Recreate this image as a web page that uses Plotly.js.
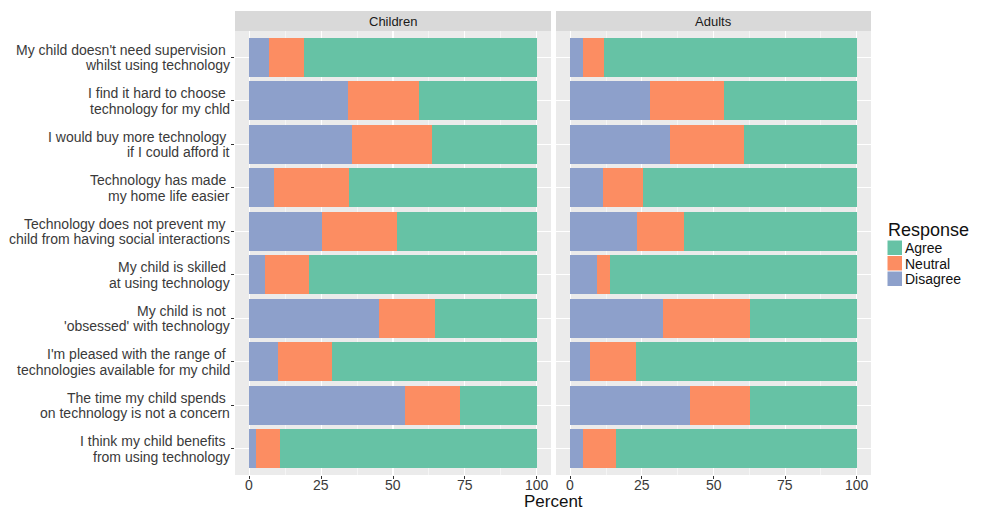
<!DOCTYPE html>
<html>
<head>
<meta charset="utf-8">
<script src="https://cdn.plot.ly/plotly-3.0.1.min.js"></script>
<style>html,body{margin:0;padding:0;background:#fff;}#chart{width:984px;height:511px;}</style>
</head>
<body>
<div id="chart"></div>
<script>
// Statements (top to bottom), each split into two display lines
const statements = [
  ["My child doesn't need supervision", "whilst using technology"],
  ["I find it hard to choose", "technology for my chld"],
  ["I would buy more technology", "if I could afford it"],
  ["Technology has made", "my home life easier"],
  ["Technology does not prevent my", "child from having social interactions"],
  ["My child is skilled", "at using technology"],
  ["My child is not", "'obsessed' with technology"],
  ["I'm pleased with the range of", "technologies available for my child"],
  ["The time my child spends", "on technology is not a concern"],
  ["I think my child benefits", "from using technology"]
];
const categories = statements.map(s => s.join(" "));
const panels = ["Children", "Adults"];
const responses = ["Disagree", "Neutral", "Agree"];
const legendOrder = ["Agree", "Neutral", "Disagree"];

// Percentages (Children)
const childDisagree = [6.7, 34.5, 35.8, 8.7, 25.2, 5.5, 45.1, 10.0, 54.1, 2.3];
const childNeutral  = [12.2, 24.4, 27.8, 25.9, 26.2, 15.2, 19.5, 18.9, 19.3, 8.4];
const childAgree    = [81.1, 41.1, 36.4, 65.4, 48.6, 79.3, 35.4, 71.1, 26.6, 89.3];
// Percentages (Adults)
const adultDisagree = [4.6, 27.8, 34.9, 11.5, 23.2, 9.2, 32.5, 6.9, 41.9, 4.6];
const adultNeutral  = [7.0, 25.7, 25.6, 14.0, 16.4, 4.7, 30.2, 16.1, 20.8, 11.5];
const adultAgree    = [88.4, 46.5, 39.5, 74.5, 60.4, 86.1, 37.3, 77.0, 37.3, 83.9];

const xTicks = [0, 25, 50, 75, 100];
const colors = {Agree: "#66C2A5", Neutral: "#FC8D62", Disagree: "#8DA0CB"};

const data = [];
const panelData = [
  {Disagree: childDisagree, Neutral: childNeutral, Agree: childAgree},
  {Disagree: adultDisagree, Neutral: adultNeutral, Agree: adultAgree}
];
panelData.forEach((pd, i) => {
  responses.forEach(r => {
    data.push({
      type: "bar", orientation: "h",
      name: r, showlegend: false,
      x: pd[r], y: categories,
      xaxis: i === 0 ? "x" : "x2", yaxis: i === 0 ? "y" : "y2",
      marker: {color: colors[r], line: {width: 0}},
      hoverinfo: "x+y+name"
    });
  });
});

const textColor = "#3a3a3a";
const font = "Liberation Sans, Arial, sans-serif";
const xaxisBase = {
  range: [-5, 105], tickvals: xTicks, showticklabels: false,
  showgrid: true, gridcolor: "#ffffff", gridwidth: 1.1,
  minor: {dtick: 12.5, tick0: 12.5, showgrid: true, gridcolor: "#ffffff", gridwidth: 0.5, ticklen: 0},
  ticks: "outside", ticklen: 3, tickcolor: "#333", tickwidth: 1,
  zeroline: false, showline: false, fixedrange: true
};
const yaxisBase = {
  type: "category", categoryorder: "array", categoryarray: categories,
  range: [9.6, -0.6], showgrid: true, gridcolor: "#ffffff", gridwidth: 1.1,
  zeroline: false, showline: false, fixedrange: true
};
const d1 = [0, 316/636], d2 = [321/636, 1];

// pixel -> paper helpers (plot area 235..871 x 31..475)
const px = v => (v - 235) / 636;
const py = v => (475 - v) / 444;

const stripH = 20/444;
const shapes = [], annotations = [];
[d1, d2].forEach((d, i) => {
  shapes.push({type: "rect", xref: "paper", yref: "paper", x0: d[0], x1: d[1], y0: 1, y1: 1 + stripH,
    fillcolor: "#D9D9D9", line: {width: 0}, layer: "below"});
  annotations.push({xref: "paper", yref: "paper", x: (d[0] + d[1]) / 2, y: 1 + stripH / 2,
    text: panels[i], showarrow: false, xanchor: "center", yanchor: "middle",
    font: {size: 13, color: "#1a1a1a", family: font}});
  // x tick labels
  xTicks.forEach(t => {
    annotations.push({xref: i === 0 ? "x" : "x2", yref: "paper", x: t, y: 0, yshift: -10,
      xanchor: "center", yanchor: "middle", text: String(t), showarrow: false,
      font: {size: 14, color: textColor, family: font}});
  });
});
// y-axis labels (two lines each)
statements.forEach((s, k) => {
  s.forEach((line, j) => {
    annotations.push({xref: "paper", yref: "y", x: 0, y: categories[k], xanchor: "right", yanchor: "middle",
      xshift: j === 0 ? -7 : -3, yshift: j === 0 ? 7.5 : -8, text: line, showarrow: false,
      font: {size: 14, color: textColor, family: font}});
  });
});
annotations.push({xref: "paper", yref: "paper", x: 0.5, y: 0, yshift: -26, yanchor: "middle",
  text: "Percent", showarrow: false, borderpad: 0, font: {size: 17, color: "#111", family: font}});

// custom legend
annotations.push({xref: "paper", yref: "paper", x: px(886), y: py(230), xanchor: "left", yanchor: "middle",
  text: "Response", showarrow: false, font: {size: 18, color: "#111", family: font}});
legendOrder.forEach((r, k) => {
  const top = 240.5 + k * 15.5;
  shapes.push({type: "rect", xref: "paper", yref: "paper", x0: px(887.5), x1: px(902), y0: py(top + 14.5), y1: py(top),
    fillcolor: colors[r], line: {width: 0}});
  annotations.push({xref: "paper", yref: "paper", x: px(903), y: py(top + 7.5), xanchor: "left", yanchor: "middle",
    text: r, showarrow: false, font: {size: 14, color: "#111", family: font}});
});

const layout = {
  width: 984, height: 511,
  margin: {l: 235, r: 113, t: 31, b: 36, pad: 0, autoexpand: false},
  paper_bgcolor: "#ffffff", plot_bgcolor: "#EBEBEB",
  barmode: "stack", bargap: 0.1,
  font: {family: font, color: textColor},
  xaxis: Object.assign({}, xaxisBase, {domain: d1, anchor: "y"}),
  xaxis2: Object.assign({}, xaxisBase, {domain: d2, anchor: "y2"}),
  yaxis: Object.assign({}, yaxisBase, {anchor: "x", showticklabels: false, ticks: "outside", ticklen: 3, tickcolor: "#333"}),
  yaxis2: Object.assign({}, yaxisBase, {anchor: "x2", showticklabels: false, ticks: ""}),
  shapes: shapes, annotations: annotations,
  showlegend: false
};

Plotly.newPlot("chart", data, layout, {displayModeBar: false, staticPlot: true});
</script>
</body>
</html>
